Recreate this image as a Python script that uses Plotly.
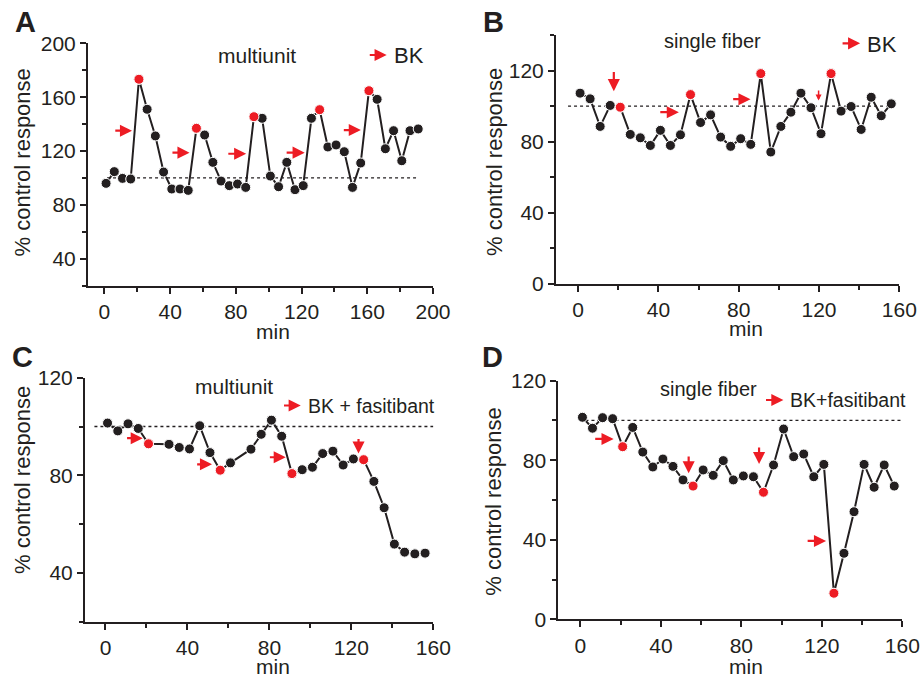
import plotly.graph_objects as go

# ---------------- data ----------------
A_min = [1, 6, 11, 16, 21, 26, 31, 36, 41, 46, 51, 56, 61, 66, 71, 76, 81, 86, 91, 96,
         101, 106, 111, 116, 121, 126, 131, 136, 141, 146, 151, 156, 161, 166, 171, 176,
         181, 186, 191]
A_vals = [96, 104.7, 99.7, 99.2, 173.3, 151, 131.2, 104.4, 91.8, 91.8, 90.8, 136.9, 131.9,
          111.6, 97.7, 94.3, 95.5, 93.0, 145.5, 144.3, 101.4, 93.5, 111.6, 91.3, 94.3, 144.3,
          150.7, 123.0, 124.5, 119.5, 93.0, 111.1, 164.8, 158.4, 121.7, 135.1, 112.8, 135.1, 136.4]
A_red = [4, 11, 18, 26, 32]

B_min = [1, 6, 11, 16, 21, 26, 31, 36, 41, 46, 51, 56, 61, 66, 71, 76, 81, 86, 91, 96,
         101, 106, 111, 116, 121, 126, 131, 136, 141, 146, 151, 156]
B_vals = [107.3, 104.1, 88.6, 100.4, 99.4, 84.1, 82.2, 77.9, 86.4, 77.9, 83.9, 106.5, 90.8,
          95.1, 82.6, 77.4, 81.7, 78.5, 118.3, 74.2, 88.6, 96.6, 107.3, 99.1, 84.5, 118.3,
          97.2, 99.8, 86.9, 105.0, 94.6, 101.3]
B_red = [4, 11, 18, 25]

C_min = [1, 6, 11, 16, 21, 31, 36, 41, 46, 51, 56, 61, 71, 76, 81, 86, 91, 96, 101, 106,
         111, 116, 121, 126, 131, 136, 141, 146, 151, 156]
C_vals = [101.4, 98.2, 101.1, 99.2, 92.9, 92.7, 91.4, 90.8, 100.3, 89.3, 82.1, 85.1, 90.7,
          96.8, 102.6, 96.0, 80.7, 82.3, 83.3, 88.9, 89.9, 84.2, 86.7, 86.4, 77.5, 66.7,
          51.8, 48.5, 47.8, 48.1]
C_red = [4, 10, 16, 23]

D_min = [1, 6, 11, 16, 21, 26, 31, 36, 41, 46, 51, 56, 61, 66, 71, 76, 81, 86, 91, 96,
         101, 106, 111, 116, 121, 126, 131, 136, 141, 146, 151, 156]
D_vals = [101.6, 96.1, 101.4, 100.9, 86.8, 96.5, 84.1, 76.6, 80.6, 76.9, 70.1, 67.0, 75.1,
          72.4, 79.8, 70.1, 72.1, 71.7, 63.9, 77.6, 95.7, 81.8, 83.1, 71.7, 77.9, 13.1, 33.2,
          54.1, 77.9, 66.4, 77.6, 67.0]
D_red = [4, 11, 18, 25]

panel_letters = ["A", "B", "C", "D"]
panel_titles = ["multiunit", "single fiber", "multiunit", "single fiber"]
legend_texts = ["BK", "BK", "BK + fasitibant", "BK+fasitibant"]
y_label = "% control response"
x_label = "min"
baseline = 100

# ---------------- style ----------------
W, H = 922, 680
INK = "#231f20"
RED = "#ed1c24"
FONT = "Arial, Liberation Sans, sans-serif"


def px_x(p):
    return p / W


def px_y(p):
    return 1 - p / H


# (left, right, top, bottom) pixel box of each plot area
boxes = [(88, 433, 43.3, 285.7), (556, 899.3, 35, 284),
         (85, 433.3, 377.7, 621.7), (558.3, 902.3, 380.7, 619.3)]
x_ranges = [[-10, 200], [-11, 160], [-10, 160], [-11, 160]]
y_ranges = [[20, 200], [0, 140], [20, 120], [0, 120]]

series = [(A_min, A_vals, A_red), (B_min, B_vals, B_red),
          (C_min, C_vals, C_red), (D_min, D_vals, D_red)]

fig = go.Figure()
layout = dict(width=W, height=H, autosize=False, margin=dict(l=0, r=0, t=0, b=0, pad=0),
              paper_bgcolor="white", plot_bgcolor="white", showlegend=False,
              font=dict(family=FONT, color=INK))
annotations = []
shapes = []

for k, (tm, vals, red) in enumerate(series):
    sfx = "" if k == 0 else str(k + 1)
    xa, ya = "x" + sfx, "y" + sfx
    l, r, t, b = boxes[k]
    axis_common = dict(showline=True, linewidth=2, linecolor=INK, ticks="outside",
                       ticklen=6, tickwidth=2, tickcolor=INK, showgrid=False,
                       zeroline=False, tick0=0, dtick=40, automargin=False,
                       tickfont=dict(size=21, family=FONT, color=INK),
                       minor=dict(ticks="outside", ticklen=4, tickwidth=2,
                                  tickcolor=INK, tick0=0, dtick=20, showgrid=False),
                       fixedrange=True)
    layout["xaxis" + sfx] = dict(axis_common, domain=[px_x(l), px_x(r)],
                                 range=x_ranges[k], anchor=ya)
    layout["yaxis" + sfx] = dict(axis_common, domain=[px_y(b), px_y(t)],
                                 range=y_ranges[k], anchor=xa)

    fig.add_trace(go.Scatter(x=tm, y=vals, xaxis=xa, yaxis=ya, mode="lines+markers",
                             line=dict(color=INK, width=2),
                             marker=dict(size=10, color=INK,
                                         line=dict(color="white", width=1)),
                             cliponaxis=False))
    fig.add_trace(go.Scatter(x=[tm[i] for i in red], y=[vals[i] for i in red],
                             xaxis=xa, yaxis=ya, mode="markers",
                             marker=dict(size=10, color=RED,
                                         line=dict(color="white", width=1)),
                             cliponaxis=False))

# dotted 100 % reference lines (x extent per panel)
dot_ext = [(1.6, 191), (-5, 154), (-5.4, 161), (2.5, 165)]
for k, (x0, x1) in enumerate(dot_ext):
    sfx = "" if k == 0 else str(k + 1)
    shapes.append(dict(type="line", xref="x" + sfx, yref="y" + sfx, x0=x0, x1=x1,
                       y0=baseline, y1=baseline,
                       line=dict(color=INK, width=1.3, dash="dot"), layer="below"))

# red arrows: (panel, tail_x, tail_y, tip_x, tip_y, small)
arrows = [
    (0, 5.7, 135.1, 16.8, 135.1, False), (0, 40.5, 118.8, 51.8, 118.8, False),
    (0, 74.5, 118, 86.3, 118, False), (0, 110, 118.8, 121.9, 118.8, False),
    (0, 144.8, 135.6, 156.1, 135.6, False), (0, 160.6, 191.3, 171.8, 191.3, False),
    (1, 17.8, 120, 17.8, 108.4, False), (1, 40.2, 96.6, 50.2, 96.6, False),
    (1, 76.5, 103.9, 85.9, 103.9, False), (1, 119.8, 109.7, 119.8, 103.2, True),
    (1, 131, 135.3, 140.5, 135.3, False),
    (2, 9.8, 95.2, 18.2, 95.2, False), (2, 44, 84.5, 52, 84.5, False),
    (2, 79.5, 87.4, 88, 87.4, False), (2, 123.5, 95.5, 123.5, 88.9, False),
    (2, 86.4, 108.6, 95.3, 108.6, False),
    (3, 6.6, 90.7, 16.5, 90.7, False), (3, 53.8, 82.6, 53.8, 73.4, False),
    (3, 88.8, 87.1, 88.8, 78.1, False), (3, 112.2, 39.4, 122.1, 39.4, False),
    (3, 91.5, 110.3, 100.9, 110.3, False),
]
for (k, tx, ty, hx, hy, small) in arrows:
    sfx = "" if k == 0 else str(k + 1)
    annotations.append(dict(x=hx, y=hy, ax=tx, ay=ty, xref="x" + sfx, yref="y" + sfx,
                            axref="x" + sfx, ayref="y" + sfx, text="", showarrow=True,
                            arrowhead=2, arrowsize=0.8 if small else 1.1,
                            arrowwidth=1.5 if small else 2.2,
                            arrowcolor=RED, standoff=0, startstandoff=0))

# in-panel texts: (panel, title_x, title_y, title_size, legend_x, legend_y, legend_size)
text_pos = [(0, 92.9, 191.3, 21, 174.8, 190.6, 22),
            (1, 66.8, 136.8, 20, 142.9, 134.6, 22),
            (2, 62.6, 116.3, 21, 97.8, 108.6, 19.5),
            (3, 63.9, 115.6, 20, 103.1, 110.3, 19.5)]
for (k, tx, ty, ts, lx, ly, ls) in text_pos:
    sfx = "" if k == 0 else str(k + 1)
    annotations.append(dict(x=tx, y=ty, xref="x" + sfx, yref="y" + sfx,
                            text=panel_titles[k], showarrow=False, xanchor="center",
                            yanchor="middle", font=dict(size=ts, family=FONT, color=INK)))
    annotations.append(dict(x=lx, y=ly, xref="x" + sfx, yref="y" + sfx,
                            text=legend_texts[k], showarrow=False, xanchor="left",
                            yanchor="middle", font=dict(size=ls, family=FONT, color=INK)))

# panel letters and axis titles (pixel centres)
letter_pos = [(25, 22), (493, 22), (22, 357), (492.5, 357)]
ytitle_pos = [(22, 162.5), (494, 162), (22, 480), (494, 501.7)]
xtitle_pos = [(273, 331), (745.5, 328.5), (273, 666.5), (746, 666.5)]
for k in range(4):
    lx, ly = letter_pos[k]
    annotations.append(dict(x=px_x(lx), y=px_y(ly), xref="paper", yref="paper",
                            text="<b>%s</b>" % panel_letters[k], showarrow=False,
                            xanchor="center", yanchor="middle",
                            font=dict(size=29, family=FONT, color=INK)))
    yx, yy = ytitle_pos[k]
    annotations.append(dict(x=px_x(yx), y=px_y(yy), xref="paper", yref="paper",
                            text=y_label, textangle=-90, showarrow=False,
                            xanchor="center", yanchor="middle",
                            font=dict(size=22, family=FONT, color=INK)))
    xx, xy = xtitle_pos[k]
    annotations.append(dict(x=px_x(xx), y=px_y(xy), xref="paper", yref="paper",
                            text=x_label, showarrow=False, xanchor="center",
                            yanchor="middle", font=dict(size=21, family=FONT, color=INK)))

layout["annotations"] = annotations
layout["shapes"] = shapes
fig.update_layout(**layout)
fig.write_html("out.html", config={"displayModeBar": False},
               post_script="document.body.style.margin='0';"
                           "document.body.style.overflow='hidden';")
